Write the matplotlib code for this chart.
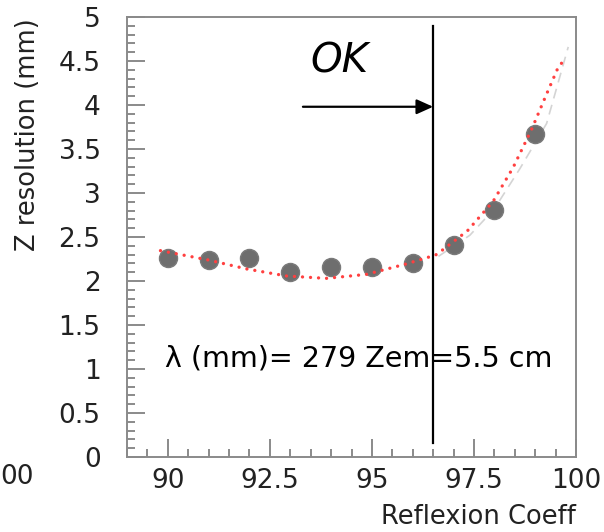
import matplotlib
matplotlib.use("Agg")
import matplotlib.pyplot as plt
from matplotlib.ticker import MultipleLocator

# measured points (Reflexion coeff %, Z resolution mm)
coeff = [90, 91, 92, 93, 94, 95, 96, 97, 98, 99]
z_res = [2.26, 2.24, 2.265, 2.105, 2.16, 2.16, 2.21, 2.41, 2.81, 3.67]

# red dotted fit curve
fit_x = [89.82, 90.98, 91.94, 92.91, 93.88, 94.86, 95.81, 96.56, 96.71,
         97.34, 97.97, 98.46, 98.91, 99.28, 99.57, 99.75]
fit_y = [2.345, 2.24, 2.136, 2.057, 2.03, 2.075, 2.19, 2.295, 2.345,
         2.57, 2.905, 3.29, 3.72, 4.125, 4.435, 4.53]

# faint grey curve on the right
grey_x = [96.63, 97.4, 98.0, 98.63, 99.28, 99.81]
grey_y = [2.28, 2.52, 2.82, 3.28, 3.79, 4.66]

cut = 96.5  # "OK" threshold

plt.rcParams['font.family'] = ['DejaVu Sans']

fig = plt.figure(figsize=(6.04, 5.32), dpi=100)
ax = fig.add_axes([127 / 604, 75 / 532, 449 / 604, 440 / 532])

ax.plot(grey_x, grey_y, color='#d4d4d4', lw=1.2, ls=(0, (6, 4)), zorder=1)
ax.plot(coeff, z_res, 'o', ms=13, color='#6e6e6e', mec='#7a7a7a', zorder=2)
ax.plot(fit_x, fit_y, color='#ff4040', lw=2.4, ls=(0, (0.01, 2.4)),
        dash_capstyle='round', zorder=3)

ax.plot([cut, cut], [0.16, 4.9], color='black', lw=1.6, zorder=4)
ax.annotate('', xy=(cut, 3.98), xytext=(93.31, 3.98),
            arrowprops=dict(arrowstyle='-|>,head_length=1.0,head_width=0.45',
                            color='black', lw=1.6, shrinkA=0, shrinkB=0))
ax.text(94.2, 4.5, 'OK', fontsize=29, style='italic', ha='center', va='center')
ax.text(89.0 + (165 - 127) / 40.8, 1.125, 'λ (mm)= 279 Zem=5.5 cm',
        fontsize=20.5, ha='left', va='center')

ax.set_xlim(89, 100)
ax.set_ylim(0, 5)
ax.xaxis.set_minor_locator(MultipleLocator(0.5))
ax.yaxis.set_minor_locator(MultipleLocator(0.1))
ax.set_xticks([90, 92.5, 95, 97.5, 100])
ax.set_xticklabels(['90', '92.5', '95', '97.5', '100'])
ax.set_yticks([0, 0.5, 1, 1.5, 2, 2.5, 3, 3.5, 4, 4.5, 5])
ax.set_yticklabels(['0', '0.5', '1', '1.5', '2', '2.5', '3', '3.5', '4', '4.5', '5'])

ax.tick_params(which='both', direction='in', color='#777777', width=1.2,
               top=False, right=False, labelsize=19, labelcolor='#222222')
ax.tick_params(which='major', length=13)
ax.tick_params(which='minor', length=6)
ax.tick_params(axis='y', which='major', pad=19)
ax.tick_params(axis='x', which='major', pad=8)
for s in ax.spines.values():
    s.set_color('#8a8a8a')
    s.set_linewidth(1.4)

fig.text(28 / 604, 1 - 135 / 532, 'Z resolution (mm)', rotation=90,
         fontsize=18.5, ha='center', va='center', color='#222222')
fig.text(576 / 604, 1 - 517 / 532, 'Reflexion Coeff', fontsize=18.5,
         ha='right', va='center', color='#222222')
# clipped tick label of the neighbouring panel
fig.text(0.5 / 604, 1 - 477 / 532, '00', fontsize=19, ha='left', va='center',
         color='#222222')

fig.savefig('out.png', dpi=100)
